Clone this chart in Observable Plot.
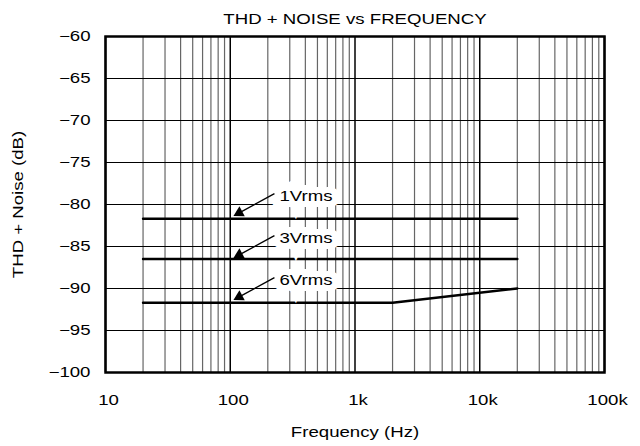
<!DOCTYPE html>
<html><head><meta charset="utf-8">
<script src="https://cdn.jsdelivr.net/npm/d3@7"></script>
<script src="https://cdn.jsdelivr.net/npm/@observablehq/plot@0.6"></script>
<style>body{margin:0;background:#fff;font-family:"Liberation Sans",Arial,sans-serif;}</style>
</head><body><div id="chart"></div>
<script>
const title = "THD + NOISE vs FREQUENCY";
const xLabel = "Frequency (Hz)";
const yLabel = "THD + Noise (dB)";
const xTicks = [10, 100, 1000, 10000, 100000];
const xTickLabels = ["10", "100", "1k", "10k", "100k"];
const yTicks = [-60, -65, -70, -75, -80, -85, -90, -95, -100];

const freq1 = [20, 20000];
const thd1 = [-81.7, -81.7];
const freq3 = [20, 20000];
const thd3 = [-86.5, -86.5];
const freq6 = [20, 2000, 20000];
const thd6 = [-91.7, -91.7, -90.0];

const labelText = ["1Vrms", "3Vrms", "6Vrms"];
const labelFreq = [405, 405, 405];
const labelDb = [-79.0, -84.0, -89.0];
const arrowFromFreq = [226, 226, 226];
const arrowFromDb = [-78.7, -83.7, -88.7];
const arrowToFreq = [118, 118, 118];
const arrowToDb = [-81.0, -86.0, -91.0];

const series = [
  ...freq1.map((f, i) => ({f, db: thd1[i], s: "1Vrms"})),
  ...freq3.map((f, i) => ({f, db: thd3[i], s: "3Vrms"})),
  ...freq6.map((f, i) => ({f, db: thd6[i], s: "6Vrms"}))
];
const labels = labelText.map((t, i) => ({t, f: labelFreq[i], db: labelDb[i],
  f1: arrowFromFreq[i], d1: arrowFromDb[i], f2: arrowToFreq[i], d2: arrowToDb[i]}));

const minorTicks = [];
for (const d of [10, 100, 1000, 10000]) for (let k = 2; k <= 9; k++) minorTicks.push(d * k);

const fmt = d => xTickLabels[xTicks.indexOf(d)];

const chart = Plot.plot({
  width: 640, height: 446,
  marginLeft: 105, marginRight: 36, marginTop: 36, marginBottom: 74,
  style: {fontFamily: '"Liberation Sans", Arial, sans-serif', fontSize: "14px", color: "#000", background: "#fff"},
  x: {type: "log", domain: [10, 100000]},
  y: {domain: [-100, -60]},
  marks: [
    Plot.ruleX(minorTicks, {stroke: "#666", strokeWidth: 1.2}),
    Plot.ruleX(xTicks, {stroke: "#000", strokeWidth: 1.5}),
    Plot.ruleY(yTicks, {stroke: "#000", strokeWidth: 1}),
    Plot.axisX(xTicks, {tickSize: 0, tickPadding: 23, tickFormat: fmt, fontSize: 14, dx: 3, label: null}),
    Plot.axisY(yTicks, {tickSize: 0, tickPadding: 15, fontSize: 14, tickFormat: d => String(d).replace("-", "\u2212"), label: null}),
    Plot.text([xLabel], {frameAnchor: "bottom", dy: 64, fontSize: 14}),
    Plot.text([yLabel], {frameAnchor: "left", textAnchor: "middle", dx: -87, rotate: -90, fontSize: 14}),
    Plot.text([title], {frameAnchor: "top", dy: -22, fontSize: 14}),
    Plot.line(series, {x: "f", y: "db", z: "s", stroke: "#000", strokeWidth: 2.5}),
    Plot.text(labels, {x: "f", y: "db", text: "t", fontSize: 14, fill: "#000", stroke: "#fff", strokeWidth: 12, strokeLinejoin: "miter"}),
    Plot.link(labels, {x1: "f1", y1: "d1", x2: "f2", y2: "d2", stroke: "#000", strokeWidth: 1.3}),
    Plot.dot(labels, {x: "f2", y: "d2", symbol: "triangle", r: 4.2, fill: "#000", stroke: "none", rotate: 242}),
    Plot.frame({stroke: "#000", strokeWidth: 2.5})
  ]
});
document.getElementById("chart").appendChild(chart);
// the reference typeface is wider than Arial: stretch glyphs along the text direction
chart.querySelectorAll("text").forEach(t => {
  const len = t.getComputedTextLength();
  if (len > 0) {
    t.setAttribute("textLength", (len * 1.33).toFixed(1));
    t.setAttribute("lengthAdjust", "spacingAndGlyphs");
  }
});
</script></body></html>
